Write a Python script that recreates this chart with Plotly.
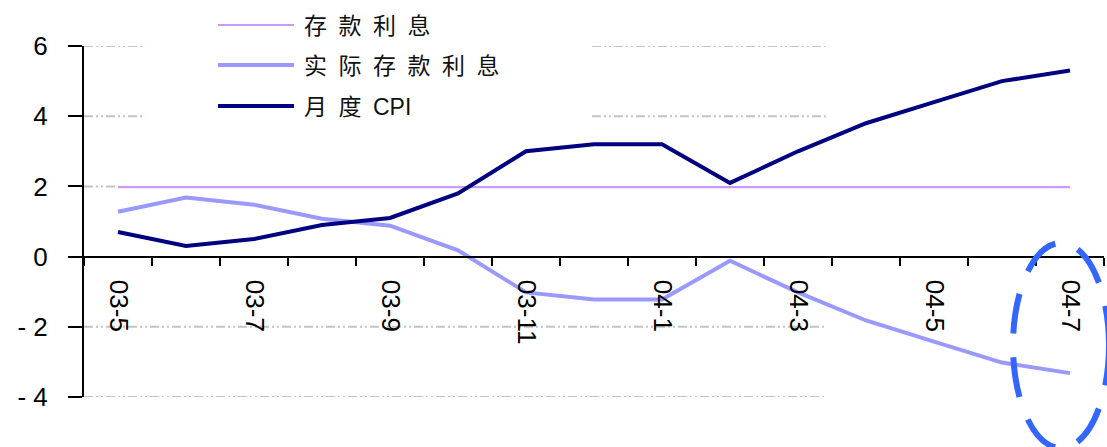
import plotly.graph_objects as go

months = ["03-5", "03-6", "03-7", "03-8", "03-9", "03-10", "03-11", "03-12",
          "04-1", "04-2", "04-3", "04-4", "04-5", "04-6", "04-7"]
deposit_rate = [1.98] * 15
cpi = [0.7, 0.3, 0.5, 0.9, 1.1, 1.8, 3.0, 3.2, 3.2, 2.1, 3.0, 3.8, 4.4, 5.0, 5.3]
real_rate = [1.28, 1.68, 1.48, 1.08, 0.88, 0.18, -1.02, -1.22, -1.22, -0.12,
             -1.02, -1.82, -2.42, -3.02, -3.32]
names = ["存款利息", "实际存款利息", "月度CPI"]
legend_labels = ["存\u2002款\u2002利\u2002息", "实\u2002际\u2002存\u2002款\u2002利\u2002息", "月\u2002度\u2002CPI"]
y_ticks = [-4, -2, 0, 2, 4, 6]
y_ticktext = ["- 4", "- 2", "0", "2", "4", "6"]
x_ticktext = [m if i % 2 == 0 else "" for i, m in enumerate(months)]

colors = ["#CC99FF", "#9999FF", "#000080"]
widths = [2.2, 4, 4]
series = [deposit_rate, real_rate, cpi]

fig = go.Figure()
for s, n, c, w in zip(series, names, colors, widths):
    fig.add_trace(go.Scatter(x=months, y=s, mode="lines", name=n,
                             line=dict(color=c, width=w), showlegend=False))

grid_dash = "9px,3px,2px,3px,2px,3px"
shapes = []
grid_segments = [(6, -0.5, 0.4), (6, 6.97, 10.41), (4, -0.5, 0.4), (4, 6.97, 10.41),
                 (2, -0.5, 0.0), (-2, -0.5, 10.41), (-4, -0.5, 10.41)]
for yv, xa, xb in grid_segments:
    shapes.append(dict(type="line", xref="x", yref="y", x0=xa, x1=xb, y0=yv, y1=yv,
                       line=dict(color="#C4C4C4", width=2, dash=grid_dash), layer="below"))

# manual legend
L, W, T, H = 84, 1020, 46, 351
def px(x):
    return (x - L) / W
def py(y):
    return (T + H - y) / H

ann = []
leg_y = [25, 65, 106]
for lab, c, w, yy in zip(legend_labels, colors, [2.2, 4, 4], leg_y):
    shapes.append(dict(type="line", xref="paper", yref="paper", x0=px(218), x1=px(294),
                       y0=py(yy), y1=py(yy), line=dict(color=c, width=w)))
    ann.append(dict(xref="paper", yref="paper", x=px(302), y=py(yy + 1), text=lab,
                    showarrow=False, xanchor="left", yanchor="middle",
                    font=dict(family="Liberation Sans, Noto Sans CJK SC", size=23, color="#111111")))

# highlight ellipse
shapes.append(dict(type="circle", xref="paper", yref="paper",
                   x0=px(1013), x1=px(1109), y0=py(448), y1=py(243),
                   line=dict(color="#3366FF", width=6, dash="40px,24px"), layer="above"))

fig.update_layout(
    width=1107, height=447,
    margin=dict(l=84, r=3, t=46, b=50),
    paper_bgcolor="white", plot_bgcolor="rgba(0,0,0,0)",
    shapes=shapes, annotations=ann,
    font=dict(family="Liberation Sans, Arial", color="black"),
    xaxis=dict(type="category", categoryorder="array", categoryarray=months,
               range=[-0.5, 14.5], anchor="free", position=(0 - (-4)) / 10,
               showline=True, linecolor="black", linewidth=2,
               showgrid=False, zeroline=False,
               tickmode="array", tickvals=months, ticktext=x_ticktext,
               tickson="boundaries", ticks="outside", ticklen=8, tickwidth=2, tickcolor="black",
               tickangle=90, tickfont=dict(size=26, family="Liberation Sans, Arial", color="black"),
               ticklabelstandoff=17, automargin=False),
    yaxis=dict(range=[-4, 6], tickmode="array", tickvals=y_ticks, ticktext=y_ticktext,
               showline=True, linecolor="black", linewidth=2,
               showgrid=False, zeroline=False,
               ticks="outside", ticklen=14, tickwidth=2, tickcolor="black",
               tickfont=dict(size=26, family="Liberation Sans, Arial", color="black"),
               ticklabelstandoff=15, automargin=False),
)

fig.write_html("out.html")
